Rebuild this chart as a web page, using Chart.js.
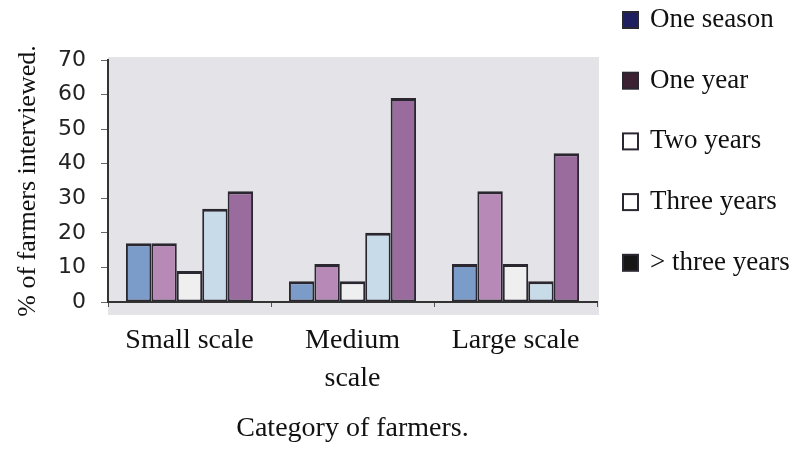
<!DOCTYPE html>
<html>
<head>
<meta charset="utf-8">
<script src="https://cdn.jsdelivr.net/npm/chart.js@4/dist/chart.umd.min.js"></script>
<style>
  html, body { margin: 0; padding: 0; background: #ffffff; }
  #wrap { width: 808px; height: 449px; position: relative; }
</style>
</head>
<body>
<div id="wrap"><canvas id="chart" width="808" height="449"></canvas></div>
<script>
// Duration categories per farmer group (% of farmers interviewed)
const categories = ['Small scale', ['Medium', 'scale'], 'Large scale'];
const seriesNames = ['One season', 'One year', 'Two years', 'Three years', '> three years'];
const oneSeason = [17, 6, 11];
const oneYear = [17, 11, 32];
const twoYears = [9, 6, 11];
const threeYears = [27, 20, 6];
const overThreeYears = [32, 59, 43];
const yTickValues = [0, 10, 20, 30, 40, 50, 60, 70];

const seriesValues = [oneSeason, oneYear, twoYears, threeYears, overThreeYears];
const barFills = ['#7b9bc8', '#b689b6', '#efefef', '#c8dbe9', '#9a6c9d'];
const legendFills = ['#1f1e5e', '#3b2132', '#ffffff', '#ffffff', '#161616'];
const outline = '#2b2730';
const serif = '"Liberation Serif", "Times New Roman", serif';

// Light grey panel behind the plotting area
const panelBackground = {
  id: 'panelBackground',
  beforeDraw(chart) {
    const { ctx, chartArea: a } = chart;
    ctx.save();
    ctx.fillStyle = '#ffffff';
    ctx.fillRect(0, 0, chart.width, chart.height);
    ctx.fillStyle = '#e4e4e8';
    ctx.fillRect(a.left, a.top - 3, a.right - a.left + 2, a.bottom - a.top + 16);
    ctx.restore();
  }
};

// Stacked key in the top-right corner
const sideKey = {
  id: 'sideKey',
  afterDraw(chart) {
    const ctx = chart.ctx;
    ctx.save();
    ctx.font = '27px ' + serif;
    ctx.textBaseline = 'alphabetic';
    ctx.textAlign = 'left';
    chart.data.datasets.forEach((ds, i) => {
      const base = 27 + i * 60.7;
      ctx.fillStyle = outline;
      ctx.fillRect(622, base - 16, 17, 18);
      ctx.fillStyle = legendFills[i];
      ctx.fillRect(624, base - 14, 13, 14);
      ctx.fillStyle = '#111111';
      ctx.fillText(ds.label, 650, base);
    });
    ctx.restore();
  }
};

new Chart(document.getElementById('chart'), {
  type: 'bar',
  data: {
    labels: categories,
    datasets: seriesNames.map((name, i) => ({
      label: name,
      data: seriesValues[i],
      backgroundColor: barFills[i],
      borderColor: outline,
      borderWidth: { top: 3, left: 2, right: 2, bottom: 2 },
      borderSkipped: false,
      categoryPercentage: 0.78,
      barPercentage: 1.0
    }))
  },
  options: {
    responsive: false,
    animation: false,
    devicePixelRatio: 1,
    layout: { padding: { left: 0, top: 60, right: 211, bottom: 4 } },
    plugins: {
      legend: { display: false },
      tooltip: { enabled: false }
    },
    scales: {
      x: {
        type: 'category',
        offset: true,
        grid: { display: true, drawOnChartArea: false, drawTicks: true, tickLength: 5, color: '#555555', offset: true },
        border: { display: true, color: '#333333', width: 2 },
        ticks: {
          color: '#111111',
          padding: 15,
          maxRotation: 0,
          autoSkip: false,
          font: { family: serif, size: 28, lineHeight: 1.36 }
        },
        title: {
          display: true,
          text: 'Category of farmers.',
          color: '#111111',
          padding: { top: 0, bottom: 0 },
          font: { family: serif, size: 28, lineHeight: 1.2 }
        },
        afterFit(scale) { scale.height = 143; }
      },
      y: {
        min: 0,
        max: 70,
        afterBuildTicks(scale) { scale.ticks = yTickValues.map(v => ({ value: v })); },
        grid: { display: true, drawOnChartArea: false, drawTicks: true, tickLength: 7, color: '#666666' },
        border: { display: true, color: '#333333', width: 2 },
        ticks: {
          color: '#222222',
          padding: 15,
          font: { family: '"DejaVu Sans", sans-serif', size: 22 }
        },
        title: {
          display: true,
          text: '% of farmers interviewed.',
          color: '#111111',
          padding: { top: 13, bottom: 0 },
          font: { family: serif, size: 26, lineHeight: 1.2 }
        },
        afterFit(scale) { scale.width = 108; }
      }
    }
  },
  plugins: [panelBackground, sideKey]
});
</script>
</body>
</html>
